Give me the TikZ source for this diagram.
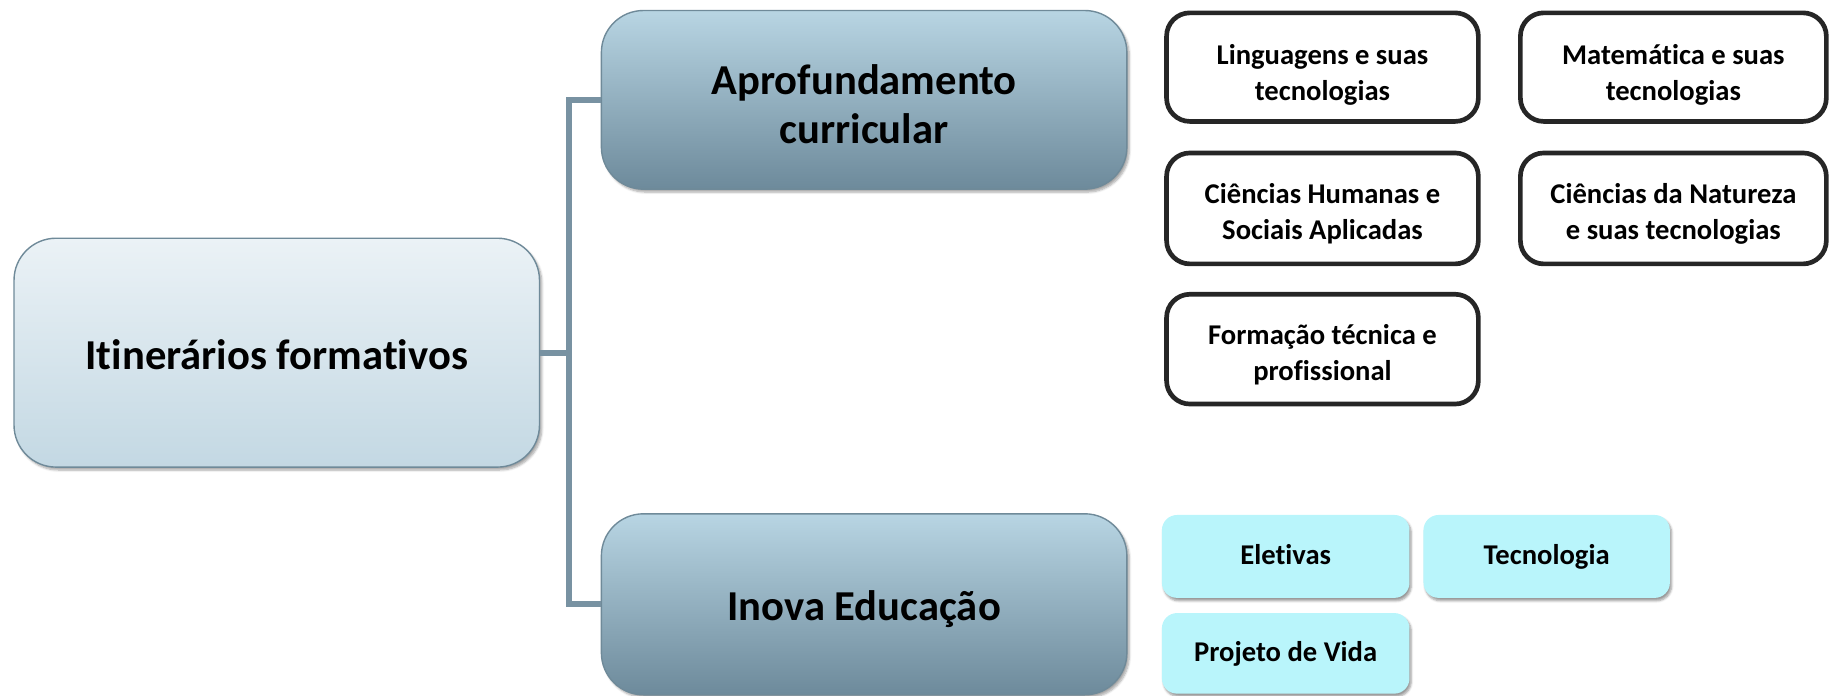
\documentclass[tikz,border=0pt]{standalone}
\usepackage{fontspec}
\setmainfont{Carlito}[Ligatures=NoCommon]
\usetikzlibrary{shadows.blur}
\definecolor{rootTop}{HTML}{EBF2F6}
\definecolor{rootBot}{HTML}{C3D8E3}
\definecolor{midTop}{HTML}{B8D5E3}
\definecolor{midBot}{HTML}{6D8A9B}
\definecolor{edgeBlue}{HTML}{6F8A99}
\definecolor{connBlue}{HTML}{7892A2}
\definecolor{cyanFill}{HTML}{B9F5FB}
\definecolor{darkEdge}{HTML}{262626}
\newcommand{\toprule}[1]{\rule{0pt}{#1}}
\tikzset{
  bigbox/.style={rounded corners=36pt, draw=edgeBlue, line width=1.2pt, align=center,
     inner sep=0pt, font=\fontsize{36.5}{42}\selectfont\bfseries,
     blur shadow={shadow blur steps=6, shadow xshift=2pt, shadow yshift=-2.5pt, shadow opacity=35}},
  rootbox/.style={bigbox, top color=rootTop, bottom color=rootBot},
  midbox/.style={bigbox, top color=midTop, bottom color=midBot},
  areabox/.style={rounded corners=20pt, draw=darkEdge, line width=4pt, fill=white, align=center,
     inner sep=0pt, font=\fontsize{24.5}{31}\selectfont\bfseries},
  inovabox/.style={rounded corners=13pt, fill=cyanFill, align=center, inner sep=0pt,
     text height=18pt, text depth=4pt,
     font=\fontsize{24.5}{31}\selectfont\bfseries,
     blur shadow={shadow blur steps=5, shadow xshift=1.5pt, shadow yshift=-2.5pt, shadow opacity=40}},
  conn/.style={draw=connBlue, line width=5pt, line join=miter}
}
\begin{document}
\begin{tikzpicture}[x=1pt,y=-1pt]
\useasboundingbox (0,0) rectangle (1568,596);
% main boxes
\node[rootbox, minimum width=450pt, minimum height=196pt, text height=33pt, text depth=5pt] (root) at (237,302) {Itinerários formativos};
\node[midbox, minimum width=450pt, minimum height=153pt] (aprof) at (740,85.5) {\toprule{33pt}Aprofundamento\\curricular};
\node[midbox, minimum width=450pt, minimum height=155pt, text height=33pt, text depth=5pt] (inova) at (740,517.5) {Inova Educação};
% connectors
\coordinate (j) at (487,302);
\draw[conn] (root.east) -- (j);
\draw[conn] (aprof.west) -| (j);
\draw[conn] (inova.west) -| (j);
% areas
\node[areabox, minimum width=267pt, minimum height=93pt] (ling) at (1132.5,57.5) {\toprule{31pt}Linguagens e suas\\tecnologias};
\node[areabox, minimum width=262pt, minimum height=93pt] (mat) at (1433,57.5) {\toprule{31pt}Matemática e suas\\tecnologias};
\node[areabox, minimum width=267pt, minimum height=95pt] (hum) at (1132.5,178.5) {\toprule{26pt}Ciências Humanas e\\Sociais Aplicadas};
\node[areabox, minimum width=262pt, minimum height=95pt] (nat) at (1433,178.5) {\toprule{26pt}Ciências da Natureza\\e suas tecnologias};
\node[areabox, minimum width=267pt, minimum height=94pt] (form) at (1132.5,299) {\toprule{27pt}Formação técnica e\\profissional};
% inova items
\node[inovabox, minimum width=212pt, minimum height=71pt] (elet) at (1101,476.5) {Eletivas};
\node[inovabox, minimum width=211pt, minimum height=71pt] (tec) at (1324.5,476.5) {Tecnologia};
\node[inovabox, minimum width=212pt, minimum height=69pt] (proj) at (1101,559.5) {Projeto de Vida};
\end{tikzpicture}
\end{document}
